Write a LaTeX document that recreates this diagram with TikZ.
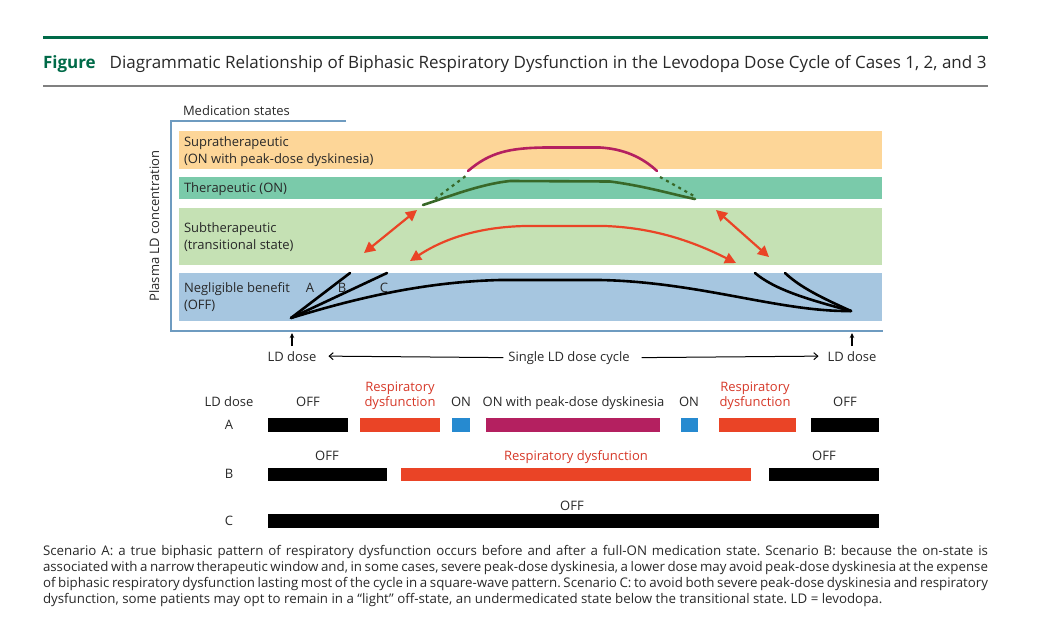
\documentclass[tikz,border=0pt]{standalone}
\usepackage{fontspec}
\setmainfont{Open Sans}
\usetikzlibrary{arrows.meta}

\definecolor{rulegreen}{RGB}{0,106,72}
\definecolor{textgray}{RGB}{40,40,40}
\definecolor{axisblue}{RGB}{110,155,192}
\definecolor{supraband}{RGB}{253,214,152}
\definecolor{therband}{RGB}{122,202,170}
\definecolor{subband}{RGB}{197,225,180}
\definecolor{offband}{RGB}{166,198,224}
\definecolor{dyskred}{RGB}{180,32,96}
\definecolor{ongreen}{RGB}{56,104,40}
\definecolor{respred}{RGB}{234,68,38}
\definecolor{resptext}{RGB}{214,56,40}
\definecolor{onblue}{RGB}{38,138,208}

\begin{document}
\begin{tikzpicture}[x=1pt, y=-1pt,
every node/.style={inner sep=0pt, outer sep=0pt, text=textgray},
lbl/.style={font=\fontsize{13}{15}\selectfont},
band/.style={anchor=north west, minimum width=703},
bar/.style={anchor=west, minimum height=14},
curve/.style={line width=2.6pt, line cap=round},
twoway/.style={draw=respred, line width=2.2pt, {Triangle[length=11pt,width=11pt]}-{Triangle[length=11pt,width=11pt]}},
uparrow/.style={line width=1.2pt, -{Stealth[length=5pt,width=4.5pt]}},
cyclearrow/.style={line width=1pt, -{Straight Barb[length=4pt,width=7pt]}}
]
\useasboundingbox (0,0) rectangle (1055,616);

\draw[rulegreen, line width=3.5pt] (43,37.5) -- (988,37.5);
\node[anchor=base west, font=\fontsize{17}{20}\selectfont] (title) at (43,68)
	{\textcolor{rulegreen}{\bfseries Figure}\hspace{14pt}Diagrammatic Relationship of Biphasic Respiratory Dysfunction in the Levodopa Dose Cycle of Cases 1, 2, and 3};
\draw[gray, line width=1.2pt] (43,86) -- (988,86);

\node[lbl, anchor=base west] (states) at (183,115) {Medication states};
\draw[axisblue, line width=1.3pt] (346,121) -- (171,121) -- (171,331) -- (883,331);
\node[lbl, rotate=90, anchor=base] (yaxis) at (159,226) {Plasma LD concentration};

\foreach \name/\top/\h/\c in {supra/131/38/supraband, ther/177/22/therband, sub/208/57/subband, off/273/48/offband}
	{
		\node[band, fill=\c, minimum height=\h] (\name) at (179,\top) {};
	}

\foreach \y/\t [count=\i] in {146.5/Supratherapeutic, 163/(ON with peak-dose dyskinesia), 192.3/Therapeutic (ON), 232.5/Subtherapeutic, 249.5/(transitional state), 292.5/Negligible benefit, 309.5/(OFF)}
	{
		\node[lbl, anchor=base west] (state\i) at (184,\y) {\t};
	}

\coordinate (dose1) at (291,318);
\coordinate (dose2) at (851,311);

\draw[curve, dyskred] (468,171) .. controls (490,152) and (510,148) .. (545,147.5) -- (600,147.5) .. controls (625,149) and (643,158) .. (657,171);
\draw[curve, ongreen] (423,205) .. controls (445,198) and (480,184) .. (510,181) -- (610,181.5) .. controls (645,186) and (675,195) .. (695,199);
\draw[ongreen, line width=2.2pt, dash pattern=on 3pt off 4pt] (435,199) -- (467,175);
\draw[ongreen, line width=2.2pt, dash pattern=on 3pt off 4pt] (660,177) -- (694,196);

\coordinate (rise) at (364,253);
\coordinate (riseon) at (417,210);
\coordinate (fallon) at (716,210);
\coordinate (fall) at (769,257);
\draw[twoway] (rise) -- (riseon);
\draw[twoway] (fallon) -- (fall);
\draw[twoway] (410,261) .. controls (445,238) and (480,227) .. (525,226) -- (605,226) .. controls (660,228) and (700,245) .. (736,263);

\draw[curve] (dose1) .. controls (350,300) and (420,282) .. (500,280) -- (600,280) .. controls (700,282) and (780,312) .. (dose2);
\draw[curve] (dose1) -- (350,273);
\draw[curve] (dose1) -- (387,273);
\draw[curve] (dose2) .. controls (810,300) and (775,290) .. (755,273);
\draw[curve] (dose2) .. controls (820,297) and (800,287) .. (785,273);

\foreach \x/\t in {310/A, 342/B, 384/C}
	{
		\node[lbl, anchor=base] (curve\t) at (\x,292) {\t};
	}

\node[lbl, anchor=base] (dosestart) at (292,361) {LD dose};
\node[lbl, anchor=base] (doseend) at (852,361) {LD dose};
\node[lbl, anchor=base] (cycle) at (569,361) {Single LD dose cycle};
\coordinate (tick1) at (292,333);
\coordinate (tick2) at (852,333);
\draw[uparrow] ([yshift=5pt]dosestart.north) -- (tick1);
\draw[uparrow] ([yshift=5pt]doseend.north) -- (tick2);
\draw[cyclearrow] ([xshift=-5pt]cycle.west) -- ([xshift=12pt]dosestart.east);
\draw[cyclearrow] ([xshift=12pt]cycle.east) -- ([xshift=-9pt]doseend.west);

\foreach \x/\t [count=\i] in {229/LD dose, 308/OFF, 461/ON, 573.5/ON with peak-dose dyskinesia, 689/ON, 845/OFF}
	{
		\node[lbl, anchor=base] (head\i) at (\x,406.7) {\t};
	}
\node[lbl, anchor=base, align=center, text=resptext] (respA1) at (400,406.7) {Respiratory\\dysfunction};
\node[lbl, anchor=base, align=center, text=resptext] (respA2) at (755,406.7) {Respiratory\\dysfunction};

\foreach \y/\t in {429.3/A, 478.3/B, 525.3/C}
	{
		\node[lbl, anchor=base] (row\t) at (229,\y) {\t};
	}

\foreach \x/\w/\c [count=\i] in {268/80/black, 360/80/respred, 452/18/onblue, 486/174/dyskred, 681/17/onblue, 719/77/respred, 811/68/black}
	{
		\node[bar, fill=\c, minimum width=\w] (a\i) at (\x,425) {};
	}
\foreach \x/\w/\c [count=\i] in {268/119/black, 401/350/respred, 769/110/black}
	{
		\node[bar, fill=\c, minimum width=\w, minimum height=13] (b\i) at (\x,474.5) {};
	}
\node[bar, fill=black, minimum width=611] (c1) at (268,521) {};

\node[lbl, anchor=base] (offB1) at (327,460.7) {OFF};
\node[lbl, anchor=base, text=resptext] (respB) at (576,460.7) {Respiratory dysfunction};
\node[lbl, anchor=base] (offB2) at (824,460.7) {OFF};
\node[lbl, anchor=base] (offC) at (572,510) {OFF};

\node[anchor=north west, text width=945pt, align=justify, font=\fontsize{13.3}{16}\selectfont\frenchspacing] (note) at (43,545)
	{Scenario A: a true biphasic pattern of respiratory dysfunction occurs before and after a full-ON medication state. Scenario B: because the on-state is\linebreak
	associated with a narrow therapeutic window and, in some cases, severe peak-dose dyskinesia, a lower dose may avoid peak-dose dyskinesia at the expense\linebreak
	of biphasic respiratory dysfunction lasting most of the cycle in a square-wave pattern. Scenario C: to avoid both severe peak-dose dyskinesia and respiratory\linebreak
	dysfunction, some patients may opt to remain in a ``light'' off-state, an undermedicated state below the transitional state. LD = levodopa.};

\end{tikzpicture}
\end{document}
